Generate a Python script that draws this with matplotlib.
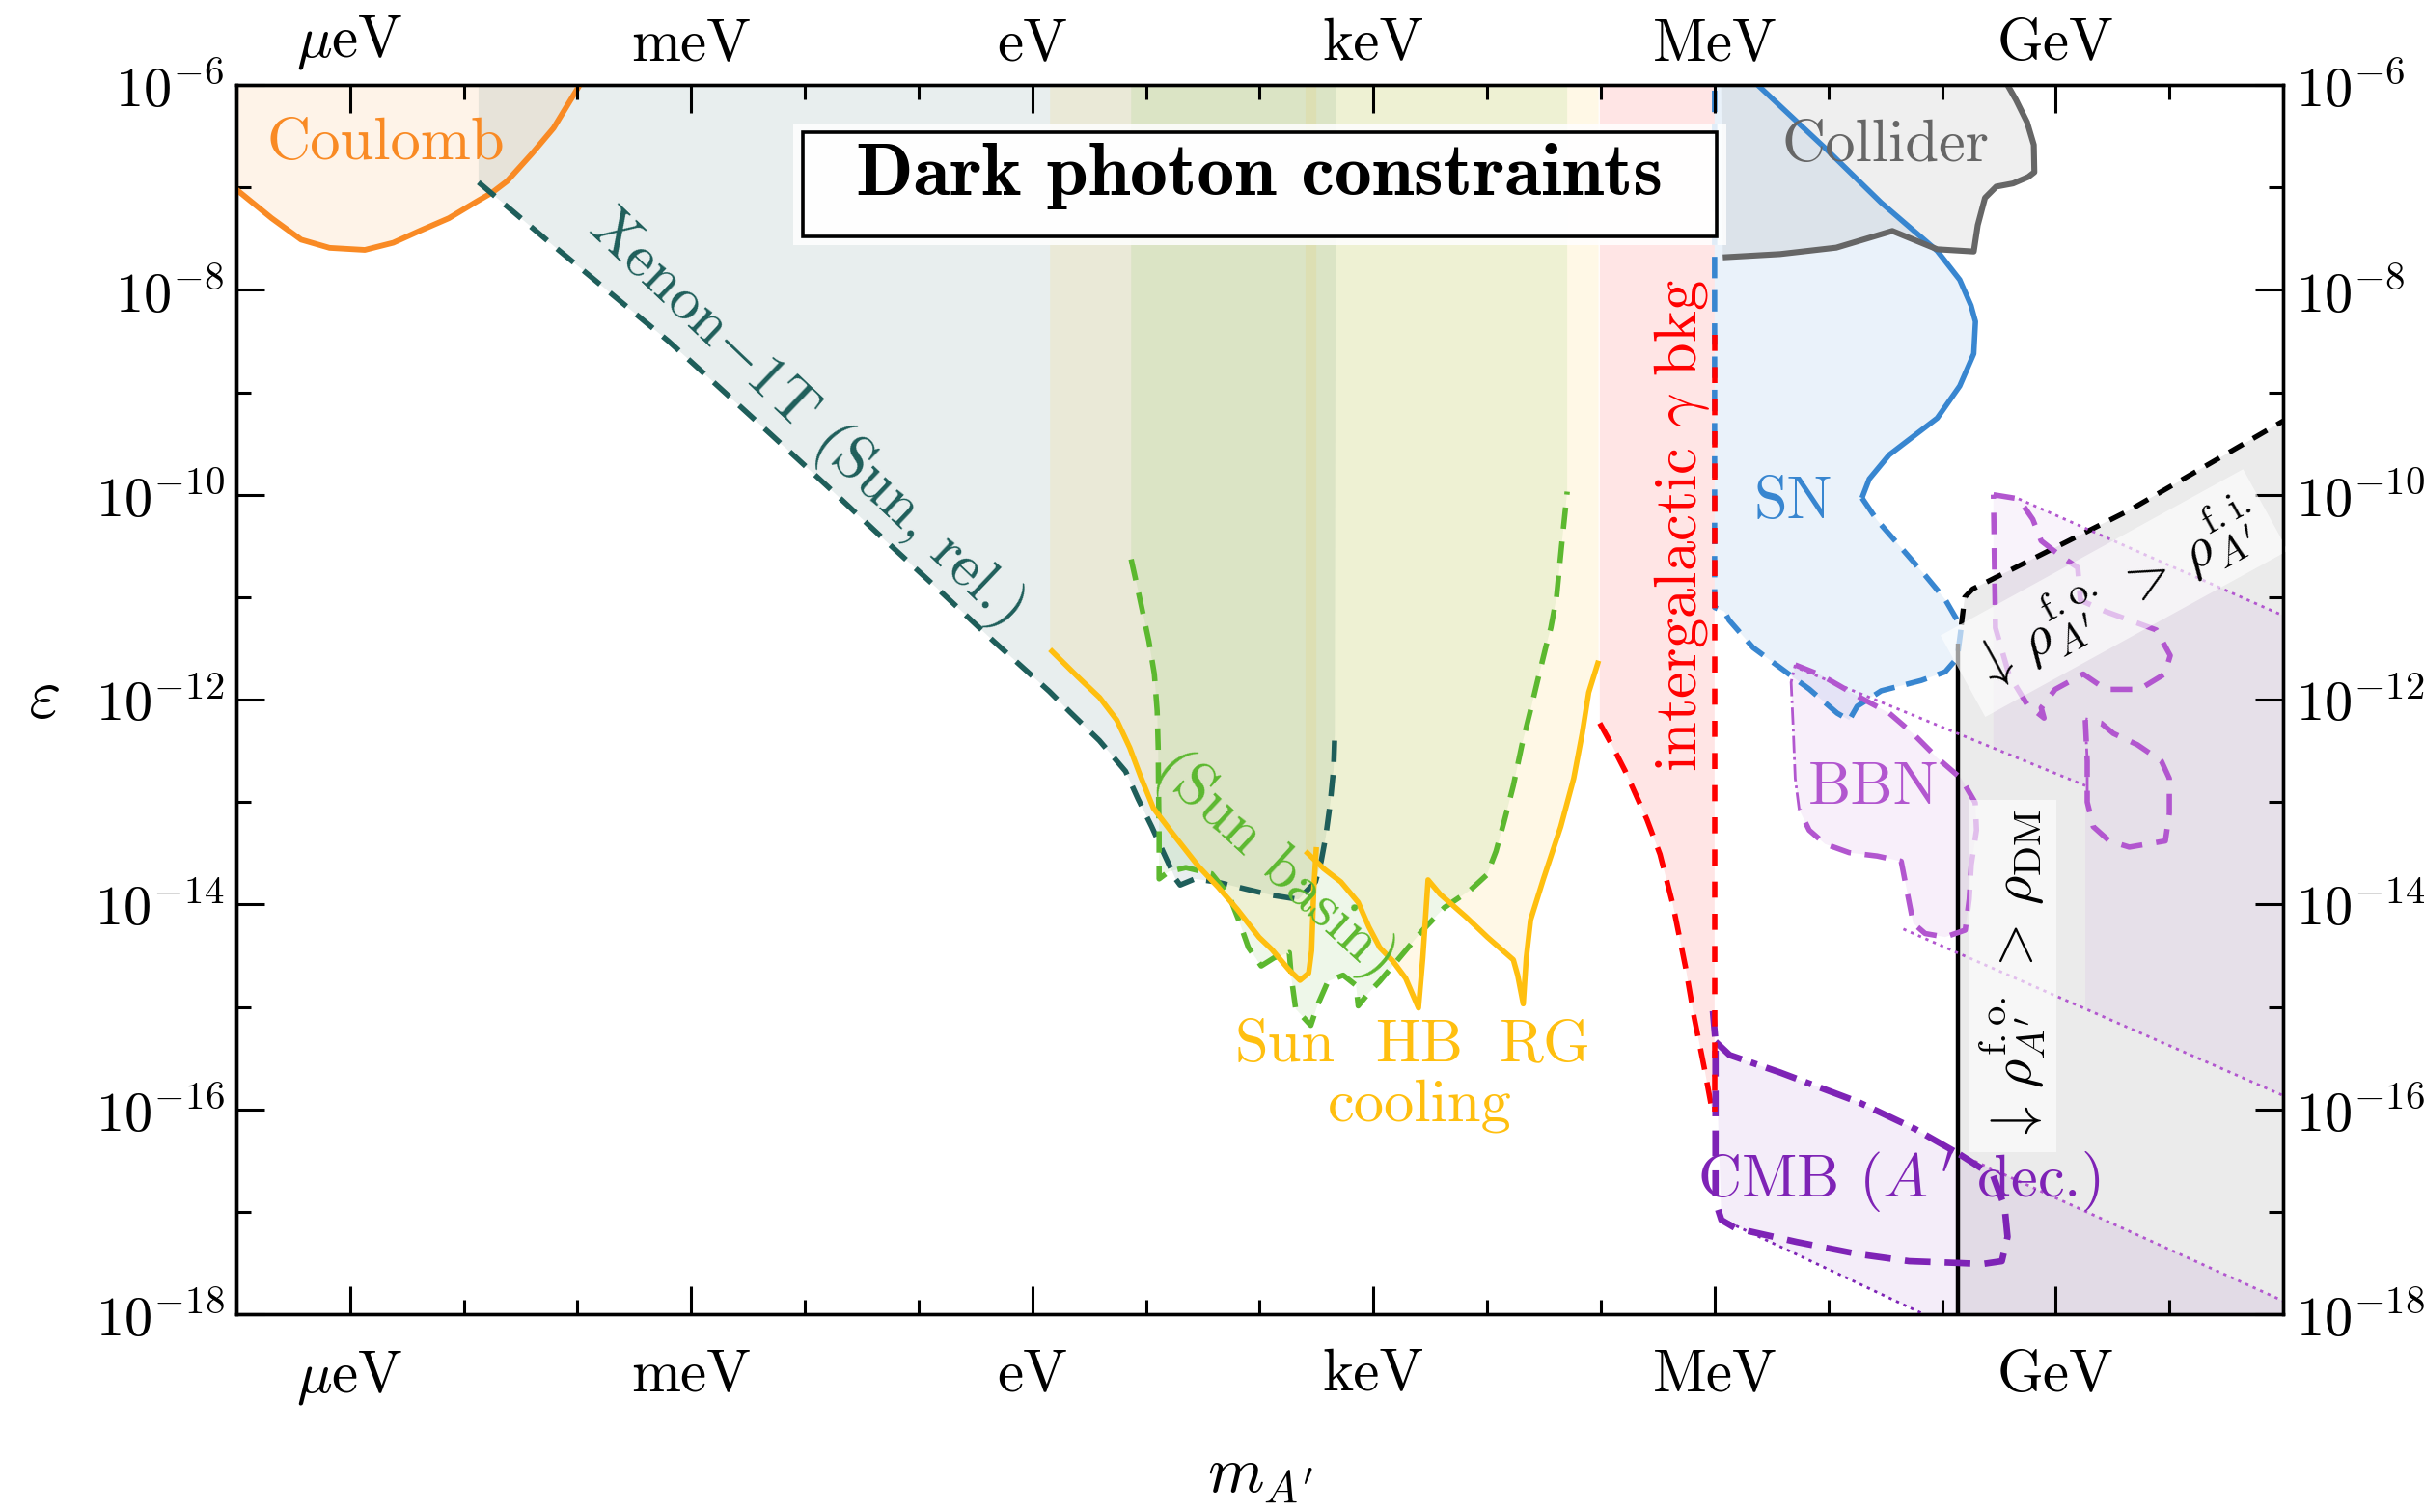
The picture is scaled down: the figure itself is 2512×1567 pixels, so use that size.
import numpy as np
import matplotlib
matplotlib.use("Agg")
import matplotlib.pyplot as plt
from matplotlib.patches import Rectangle
from matplotlib.ticker import NullFormatter

plt.rcParams.update({
    "font.family": "serif",
    "font.serif": ["cmr10"],
    "mathtext.fontset": "cm",
    "axes.unicode_minus": False,
})

# ── axis ranges (log10; mass in eV) ──────────────────────────────────────────
LOGM_MIN, LOGM_MAX = -7, 11
LOGEPS_MIN, LOGEPS_MAX = -18, -6
LOGM_MEV = 6

unit_logm = [-6, -3, 0, 3, 6, 9]
unit_labels = [r"$\mu$eV", "meV", "eV", "keV", "MeV", "GeV"]
eps_major = [-18, -16, -14, -12, -10, -8, -6]
eps_minor = [-17, -15, -13, -11, -9, -7]

# ── constraint curves, log10(m/eV) vs log10(eps) ─────────────────────────────
coulomb_logm = [-7.0, -6.69, -6.43, -6.18, -5.87, -5.62, -5.38, -5.13, -4.89, -4.75,
                -4.62, -4.40, -4.21, -4.09, -3.98]
coulomb_logeps = [-7.02, -7.30, -7.51, -7.59, -7.61, -7.54, -7.42, -7.30, -7.14, -7.05,
                  -6.94, -6.67, -6.42, -6.20, -6.0]

xenon_logm = [-4.87, -4.2, -3.2, -2.29, -1.80, -1.31, -0.83, -0.34, 0.15, 0.33, 0.59,
              0.82, 0.93, 1.05, 1.16, 1.26, 1.30, 1.43, 1.62, 1.88, 2.11, 2.34, 2.49,
              2.54, 2.58, 2.62, 2.65, 2.66]
xenon_logeps = [-6.95, -7.58, -8.50, -9.42, -9.92, -10.43, -10.92, -11.43, -11.92, -12.12,
                -12.40, -12.70, -12.97, -13.24, -13.51, -13.75, -13.81, -13.75, -13.78,
                -13.85, -13.91, -13.95, -13.78, -13.58, -13.34, -13.01, -12.67, -12.33]
xenon_top_right = 2.67

sun_logm = [0.156, 0.402, 0.592, 0.743, 0.857, 0.952, 1.065, 1.236, 1.463, 1.634, 1.804,
            1.994, 2.107, 2.259, 2.354, 2.43, 2.456, 2.475, 2.498]
sun_logeps = [-11.51, -11.78, -11.98, -12.20, -12.47, -12.75, -13.06, -13.31, -13.63,
              -13.83, -14.05, -14.32, -14.44, -14.64, -14.74, -14.67, -14.45, -13.85, -13.44]

hbrg_logm = [2.403, 2.562, 2.714, 2.866, 2.96, 3.055, 3.169, 3.283, 3.396, 3.434, 3.48,
             3.586, 3.813, 4.003, 4.23, 4.268, 4.317, 4.344, 4.382, 4.495, 4.647, 4.761,
             4.836, 4.893, 4.98]
hbrg_logeps = [-13.48, -13.65, -13.78, -13.98, -14.22, -14.42, -14.55, -14.72, -15.01,
               -14.52, -13.76, -13.90, -14.12, -14.32, -14.54, -14.69, -14.97, -14.52,
               -14.15, -13.75, -13.24, -12.77, -12.33, -11.93, -11.62]

basin_logm = [0.869, 0.927, 1.025, 1.073, 1.098, 1.107, 1.11, 1.115, 1.115, 1.198, 1.35,
              1.577, 1.729, 1.824, 1.90, 2.013, 2.127, 2.26, 2.279, 2.316, 2.449, 2.506,
              2.60, 2.733, 2.847, 2.866, 2.96, 3.055, 3.207, 3.434, 3.624, 3.851, 3.998,
              4.078, 4.154, 4.23, 4.306, 4.382, 4.44, 4.515, 4.56, 4.61, 4.655, 4.704]
basin_logeps = [-10.63, -10.92, -11.43, -11.75, -12.11, -12.47, -12.90, -13.34, -13.75,
                -13.68, -13.64, -13.70, -13.91, -14.18, -14.42, -14.60, -14.52, -14.47,
                -14.72, -15.02, -15.18, -14.99, -14.75, -14.69, -14.79, -14.99, -14.86,
                -14.75, -14.55, -14.25, -14.03, -13.86, -13.71, -13.48, -13.17, -12.84,
                -12.44, -12.10, -11.83, -11.49, -11.30, -11.0, -10.49, -9.97]

igb_logm = [4.99, 5.10, 5.215, 5.405, 5.52, 5.633, 5.746, 5.82, 5.91, 5.98]
igb_logeps = [-12.23, -12.45, -12.70, -13.17, -13.51, -14.0, -14.62, -15.1, -15.6, -16.02]
igb_edge_logeps = [-8.44, -16.02]

sn_solid_logm = [6.379, 6.971, 7.465, 7.958, 8.156, 8.255, 8.294, 8.279, 8.156, 7.958,
                 7.662, 7.536, 7.36, 7.296]
sn_solid_logeps = [-6.0, -6.615, -7.149, -7.62, -7.902, -8.153, -8.31, -8.624, -8.938,
                   -9.252, -9.503, -9.61, -9.846, -10.031]
sn_dash_logm = [7.296, 7.43, 7.641, 7.852, 8.028, 8.116, 8.169, 8.134, 8.028, 7.817, 7.465,
                7.254, 7.184, 7.078, 6.832, 6.585, 6.339, 6.128, 6.086, 6.0, 6.0]
sn_dash_logeps = [-10.031, -10.25, -10.518, -10.787, -11.023, -11.191, -11.292, -11.594,
                  -11.729, -11.813, -11.914, -12.065, -12.2, -12.132, -11.897, -11.695,
                  -11.493, -11.225, -11.14, -11.1, -6.0]

collider_logm = [6.058, 6.072, 6.576, 7.07, 7.563, 7.958, 8.279, 8.314, 8.378, 8.477, 8.625,
                 8.758, 8.812, 8.807, 8.748, 8.65, 8.576]
collider_logeps = [-6.0, -7.683, -7.651, -7.588, -7.425, -7.604, -7.626, -7.369, -7.102,
                   -6.992, -6.961, -6.898, -6.851, -6.584, -6.364, -6.144, -6.0]

fo_logm = [8.144, 8.17, 8.20, 8.27, 8.45, 9.65, 11.0]
fo_logeps = [-11.45, -11.27, -11.0, -10.92, -10.82, -10.15, -9.28]

bbn_logm = [6.709, 6.937, 7.254, 7.536, 7.747, 7.958, 8.169, 8.292, 8.303, 8.257, 8.239,
            8.204, 8.028, 7.852, 7.747, 7.694, 7.641, 7.43, 7.184, 6.972, 6.832, 6.744,
            6.709, 6.691, 6.673, 6.709]
bbn_logeps = [-11.661, -11.762, -11.964, -12.132, -12.334, -12.569, -12.771, -13.006,
              -13.275, -13.611, -13.948, -14.25, -14.318, -14.284, -14.183, -13.88, -13.578,
              -13.527, -13.494, -13.41, -13.275, -13.073, -12.771, -12.267, -11.83, -11.661]
bbn_thin_from = 21   # left edge drawn dash-dot

bbn_up_logm = [8.452, 8.674, 8.798, 8.872, 9.045, 9.193, 9.217, 9.44, 9.884, 10.007, 9.958,
               9.736, 9.44, 9.242, 8.995, 8.872, 8.897, 8.75, 8.59, 8.47, 8.452]
bbn_up_logeps = [-10.0, -10.04, -10.24, -10.45, -10.60, -10.71, -11.03, -11.14, -11.32,
                 -11.57, -11.75, -11.90, -11.90, -11.75, -11.90, -12.08, -12.18, -12.05,
                 -11.76, -11.30, -10.0]
bbn_low_logm = [9.26, 9.277, 9.277, 9.33, 9.471, 9.647, 9.964, 9.999, 9.999, 9.929, 9.717,
                9.506, 9.40, 9.26]
bbn_low_logeps = [-12.2, -12.6, -13.0, -13.24, -13.38, -13.44, -13.38, -13.11, -12.77,
                  -12.60, -12.44, -12.33, -12.23, -12.2]

# thin dotted extensions of the decay contours
dot1_logm, dot1_logeps = [8.674, 11.0], [-10.04, -11.18]
dot2_logm, dot2_logeps = [6.75, 9.26], [-11.70, -12.84]
dot3_logm, dot3_logeps = [7.66, 11.0], [-14.24, -15.865]
bbn_ext_logm = [8.452, 8.674, 11.0, 11.0, 9.26, 9.26, 8.452]
bbn_ext_logeps = [-10.0, -10.04, -11.18, -15.865, -15.02, -12.84, -12.47]

cmb_top_logm = [6.008, 6.132, 6.576, 7.267, 7.761, 8.156]
cmb_top_logeps = [-15.34, -15.47, -15.64, -15.93, -16.19, -16.44]
cmb_logm = [8.156, 8.45, 8.55, 8.576, 8.526, 8.353, 8.156, 7.711, 7.267, 6.724, 6.181,
            6.06, 6.008, 6.008, 5.984]
cmb_logeps = [-16.44, -16.65, -16.95, -17.244, -17.482, -17.51, -17.5, -17.482, -17.414,
              -17.295, -17.159, -17.08, -16.9, -15.34, -15.03]
cmb_dot_top_logm, cmb_dot_top_logeps = [8.156, 11.0], [-16.44, -17.87]
cmb_dot_low_logm, cmb_dot_low_logeps = [6.06, 7.84], [-17.07, -18.0]

# ── colours ───────────────────────────────────────────────────────────────────
C_COUL = "#f98a24"
C_XEN = "#1e5e5a"
C_BASIN = "#5cb82f"
C_COOL = "#ffbf0f"
C_IGB = "#ff0000"
C_SN = "#3886d0"
C_COLL = "#666666"
C_BBN = "#b256cf"
C_CMB = "#7e23b6"

LABEL_FS = 22.5


def P(v):
    return np.power(10.0, np.asarray(v, dtype=float))


fig = plt.figure(figsize=(12.56, 7.835), dpi=200)
ax = fig.add_axes([0.0975, 0.1308, 0.8444, 0.8130])
ax.set_xscale("log")
ax.set_yscale("log")
ax.set_xlim(P(LOGM_MIN), P(LOGM_MAX))
ax.set_ylim(P(LOGEPS_MIN), P(LOGEPS_MAX))


def region(logm, logeps, color, alpha=0.1, z=1):
    ax.fill(P(logm), P(logeps), color=color, alpha=alpha, lw=0, zorder=z)


def curve(logm, logeps, color, ls="-", lw=2.0, z=3, **kw):
    ax.plot(P(logm), P(logeps), color=color, ls=ls, lw=lw, zorder=z,
            solid_capstyle="butt", dash_capstyle="butt", **kw)


TOP = LOGEPS_MAX
BOT = LOGEPS_MIN

# filled regions
region(coulomb_logm + [LOGM_MIN], coulomb_logeps + [TOP], C_COUL)
region([xenon_logm[0]] + xenon_logm + [xenon_top_right],
       [TOP] + xenon_logeps + [TOP], C_XEN)
region([sun_logm[0]] + sun_logm + [sun_logm[-1]], [TOP] + sun_logeps + [TOP], C_COOL)
region([hbrg_logm[0]] + hbrg_logm + [hbrg_logm[-1]], [TOP] + hbrg_logeps + [TOP], C_COOL)
region([basin_logm[0]] + basin_logm + [basin_logm[-1]], [TOP] + basin_logeps + [TOP],
       C_BASIN)
region([igb_logm[0]] + igb_logm + [LOGM_MEV, LOGM_MEV],
       [TOP] + igb_logeps + [igb_logeps[-1], TOP], C_IGB)
region(sn_solid_logm + sn_dash_logm, sn_solid_logeps + sn_dash_logeps, C_SN)
region(collider_logm, collider_logeps, C_COLL)
region(fo_logm + [LOGM_MAX, fo_logm[0]], fo_logeps + [BOT, BOT], "black", alpha=0.08)
region(bbn_logm, bbn_logeps, C_BBN, alpha=0.09)
region(bbn_ext_logm, bbn_ext_logeps, C_BBN, alpha=0.07)
region(cmb_top_logm + cmb_dot_top_logm[1:] + [LOGM_MAX, cmb_dot_low_logm[1]] +
       cmb_dot_low_logm[::-1],
       cmb_top_logeps + cmb_dot_top_logeps[1:] + [BOT, BOT] + cmb_dot_low_logeps[::-1],
       C_CMB, alpha=0.08)

# boundary lines
dash = (0, (4, 2.4))
curve(coulomb_logm, coulomb_logeps, C_COUL, lw=2.1)
curve(xenon_logm, xenon_logeps, C_XEN, ls=dash, lw=2.0)
curve(basin_logm, basin_logeps, C_BASIN, ls=dash, lw=2.0)
curve(sun_logm, sun_logeps, C_COOL, lw=2.0)
curve(hbrg_logm, hbrg_logeps, C_COOL, lw=2.0)
curve(sn_solid_logm, sn_solid_logeps, C_SN, lw=2.0)
curve(sn_dash_logm, sn_dash_logeps, C_SN, ls=(0, (4, 2.2)), lw=2.0)
curve(igb_logm, igb_logeps, C_IGB, ls=(0, (4, 2.4)), lw=2.0)
curve([LOGM_MEV, LOGM_MEV], igb_edge_logeps, C_IGB, ls=(0, (3, 3)), lw=2.0, z=3.5)
curve(collider_logm[1:], collider_logeps[1:], C_COLL, lw=2.2)
curve(fo_logm[:1] + [fo_logm[0]], [BOT, fo_logeps[0]], "black", lw=1.6)
curve(fo_logm[1:], fo_logeps[1:], "black", ls=(0, (3.2, 2.2)), lw=1.9)

curve(bbn_logm[:bbn_thin_from + 1], bbn_logeps[:bbn_thin_from + 1], C_BBN,
      ls=(0, (4, 2.6)), lw=2.0)
curve(bbn_logm[bbn_thin_from:], bbn_logeps[bbn_thin_from:], C_BBN,
      ls="-.", lw=1.0)
curve(bbn_up_logm, bbn_up_logeps, C_BBN, ls=(0, (4, 2.6)), lw=2.0)
curve(bbn_low_logm, bbn_low_logeps, C_BBN, ls=(0, (4, 2.6)), lw=2.0)
curve(bbn_low_logm[:3], bbn_low_logeps[:3], C_BBN, ls="-.", lw=1.0)
for lm, le in [(dot1_logm, dot1_logeps), (dot2_logm, dot2_logeps), (dot3_logm, dot3_logeps),
               (cmb_dot_top_logm, cmb_dot_top_logeps), (cmb_dot_low_logm, cmb_dot_low_logeps)]:
    curve(lm, le, C_BBN if lm is not cmb_dot_low_logm else C_CMB, ls=(0, (1.2, 1.8)), lw=1.0)

curve(cmb_top_logm, cmb_top_logeps, C_CMB, ls=(0, (5, 1.5, 1, 1.5)), lw=2.4)
curve(cmb_logm, cmb_logeps, C_CMB, ls=(0, (4, 2.2)), lw=2.4)

# ── labels ───────────────────────────────────────────────────────────────────
def label(logm, logeps, s, color, rot=0, fs=LABEL_FS, **kw):
    ax.text(P(logm), P(logeps), s, color=color, fontsize=fs, rotation=rot,
            rotation_mode="anchor", ha="center", va="center", zorder=8, **kw)


label(-5.684, -6.58, "Coulomb", C_COUL)
label(-1.995, -9.244, r"Xenon$-$1T (Sun, rel.)", C_XEN, rot=-43.6)
label(2.134, -13.61, "(Sun basin)", C_BASIN, rot=-42.8)
label(2.221, -15.38, "Sun", C_COOL)
label(3.404, -15.38, "HB", C_COOL)
label(4.514, -15.38, "RG", C_COOL)
label(3.404, -15.97, "cooling", C_COOL)
label(5.712, -10.30, r"intergalactic $\gamma$ bkg", C_IGB, rot=90)
label(6.691, -10.08, "SN", C_SN)
label(7.505, -6.60, "Collider", C_COLL)
label(7.395, -12.87, "BBN", C_BBN)
label(7.62, -16.70, r"CMB ($A^{\,\prime}$ dec.)", C_CMB)

label(9.514, -10.96, r"$\downarrow\,\rho^{\mathrm{f.o.}}_{A'}\,>\,\rho^{\mathrm{f.i.}}_{A'}$",
      "black", rot=28.8, fs=21,
      bbox=dict(boxstyle="square,pad=0.2", fc="white", ec="none", alpha=0.62))
label(8.62, -14.70, r"$\downarrow\,\rho^{\mathrm{f.o.}}_{A'}\,>\,\rho_{\mathrm{DM}}$",
      "black", rot=90, fs=21,
      bbox=dict(boxstyle="square,pad=0.15", fc="white", ec="none", alpha=0.62))

# title box with a soft white margin behind it
halo = Rectangle((0.272, 0.870), 0.456, 0.098, transform=ax.transAxes,
                 fc="white", ec="none", alpha=0.85, zorder=9)
frame = Rectangle((0.2766, 0.8768), 0.4466, 0.085, transform=ax.transAxes,
                  fc=(1, 1, 1, 0.92), ec="black", lw=1.3, zorder=10)
ax.add_patch(halo)
ax.add_patch(frame)
ax.text(0.5, 0.9105, "Dark photon constraints", transform=ax.transAxes, ha="center",
        va="baseline", fontsize=28, family="cmb10", color="black", zorder=11)

# ── axes, ticks ───────────────────────────────────────────────────────────────
decades = list(range(LOGM_MIN, LOGM_MAX + 1))
ax.set_xticks(P(unit_logm))
ax.set_xticklabels(unit_labels)
ax.set_xticks(P(decades), minor=True)
ax.set_yticks(P(eps_major))
ax.set_yticklabels([rf"$10^{{{e}}}$" for e in eps_major])
ax.set_yticks(P(eps_minor), minor=True)
ax.xaxis.set_minor_formatter(NullFormatter())
ax.yaxis.set_minor_formatter(NullFormatter())

ax.tick_params(which="both", direction="in", top=False, right=True, labelright=True,
               width=1.1, labelsize=21)
ax.tick_params(axis="x", labelsize=22)
ax.tick_params(which="major", length=10.5)
ax.tick_params(which="minor", length=5.5)
ax.tick_params(axis="x", pad=13)
ax.tick_params(axis="y", pad=4.5)
for sp in ax.spines.values():
    sp.set_linewidth(1.2)

axt = ax.twiny()
axt.set_xscale("log")
axt.set_xlim(ax.get_xlim())
axt.set_xticks(P(unit_logm))
axt.set_xticklabels(unit_labels)
axt.set_xticks(P(decades), minor=True)
axt.xaxis.set_minor_formatter(NullFormatter())
axt.tick_params(which="both", direction="in", width=1.1, labelsize=22, pad=5)
axt.tick_params(which="major", length=10.5)
axt.tick_params(which="minor", length=5.5)
for sp in axt.spines.values():
    sp.set_linewidth(1.2)

ax.set_xlabel(r"$m_{A'}$", fontsize=24, va="center")
ax.xaxis.set_label_coords(0.5, -0.132)
ax.set_ylabel(r"$\varepsilon$", fontsize=26, rotation=0, va="center", ha="center")
ax.yaxis.set_label_coords(-0.094, 0.5)

fig.savefig("out.png", dpi=200)
